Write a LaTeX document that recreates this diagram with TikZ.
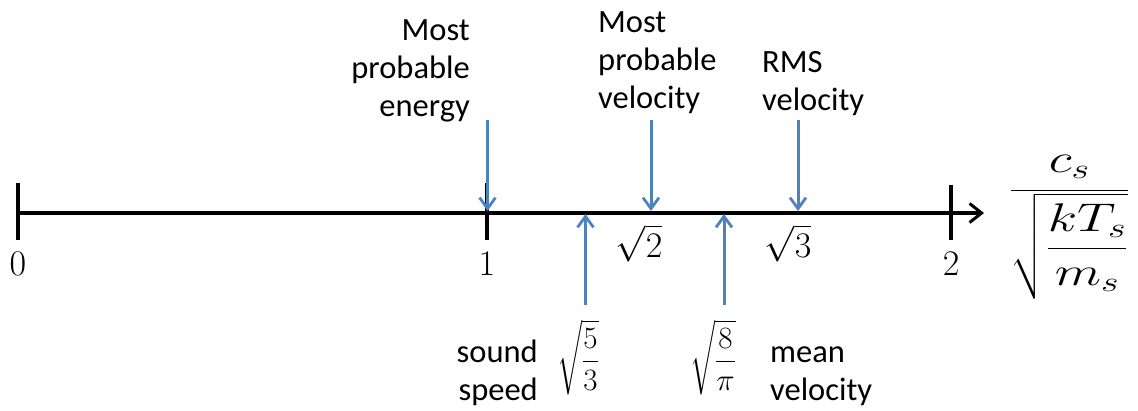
\RequirePackage{fix-cm}
\documentclass[tikz,border=0pt]{standalone}
\usepackage{amsmath}
\usepackage{graphicx}
\usepackage{fontspec}
\newfontfamily\calib{Carlito}
\usetikzlibrary{arrows.meta}
\definecolor{arrowblue}{HTML}{4F81BD}
\begin{document}
\begin{tikzpicture}[x=1pt,y=-1pt,
  axisline/.style={line width=3.5pt,-{Straight Barb[length=12pt,width=19pt,line width=3pt]}},
  tickline/.style={line width=4pt},
  bluearrow/.style={draw=arrowblue,line width=3pt,-{Straight Barb[length=11pt,width=16pt,line width=2.8pt]}},
  lbl/.style={font={\calib\fontsize{32.5}{38}\selectfont},inner sep=0pt},
  mth/.style={font={\fontsize{36}{40}\selectfont},inner sep=0pt},
  fracmth/.style={font={\fontsize{31}{36}\selectfont},inner sep=0pt},
  unitmth/.style={font={\fontsize{40}{44}\selectfont},inner sep=0pt}]
\useasboundingbox (0,0) rectangle (1138,410);
% axis
\coordinate (o) at (18,213);
\coordinate (e) at (984,213);
\draw[axisline] (o) -- (e);
\coordinate (t0a) at (18,183); \coordinate (t0b) at (18,240);
\coordinate (t1a) at (487,183); \coordinate (t1b) at (487,240);
\coordinate (t2a) at (951,185); \coordinate (t2b) at (951,240);
\draw[tickline] (t0a) -- (t0b);
\draw[tickline] (t1a) -- (t1b);
\draw[tickline] (t2a) -- (t2b);
% numbers
\node[mth,anchor=base] (n0) at (18,275) {$0$};
\node[mth,anchor=base] (n1) at (487,275) {$1$};
\node[mth,anchor=base] (n2) at (951,275) {$2$};
\node[mth,anchor=base] (nr2) at (639,257) {$\sqrt{2}$};
\node[mth,anchor=base] (nr3) at (788,257) {$\sqrt{3}$};
\node[fracmth,anchor=base] (n53) at (578,369) {$\sqrt{\dfrac{5}{3}}$};
\node[fracmth,anchor=base] (n8p) at (713,369) {$\sqrt{\dfrac{8}{\pi}}$};
\node[unitmth,anchor=base west] (unit) at (1009,200) {\scalebox{1.35}[1]{$\dfrac{c_s}{\sqrt{\dfrac{kT_s}{m_s}}}$}};
% labels
\node[lbl,align=right,anchor=north east] (en) at (470,19) {Most\\probable\\energy};
\node[lbl,align=left,anchor=north west] (mpv) at (598,11) {Most\\probable\\velocity};
\node[lbl,align=left,anchor=north west] (rms) at (762,51) {RMS\\velocity};
\node[lbl,align=right,anchor=north east] (snd) at (538,340) {sound\\speed};
\node[lbl,align=left,anchor=north west] (mean) at (770,347) {mean\\velocity};
% blue arrows
\coordinate (a1s) at (487.5,120); \coordinate (a1e) at (487.5,211);
\coordinate (a2s) at (651,120); \coordinate (a2e) at (651,211);
\coordinate (a3s) at (798,120); \coordinate (a3e) at (798,211);
\coordinate (a4s) at (585.5,305); \coordinate (a4e) at (585.5,214);
\coordinate (a5s) at (724,305); \coordinate (a5e) at (724,214);
\draw[bluearrow] (a1s) -- (a1e);
\draw[bluearrow] (a2s) -- (a2e);
\draw[bluearrow] (a3s) -- (a3e);
\draw[bluearrow] (a4s) -- (a4e);
\draw[bluearrow] (a5s) -- (a5e);
\end{tikzpicture}
\end{document}
